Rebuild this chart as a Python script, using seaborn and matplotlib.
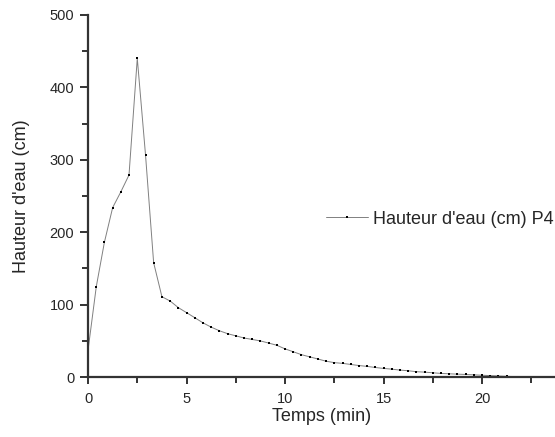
import matplotlib
matplotlib.use("Agg")
import matplotlib.pyplot as plt
import seaborn as sns
import pandas as pd
from matplotlib.ticker import MultipleLocator

# time steps (min), sampled every 25 s
temps = [0.00, 0.42, 0.83, 1.25, 1.67, 2.08, 2.50, 2.92, 3.33, 3.75,
         4.17, 4.58, 5.00, 5.42, 5.83, 6.25, 6.67, 7.08, 7.50, 7.92,
         8.33, 8.75, 9.17, 9.58, 10.00, 10.42, 10.83, 11.25, 11.67, 12.08,
         12.50, 12.92, 13.33, 13.75, 14.17, 14.58, 15.00, 15.42, 15.83, 16.25,
         16.67, 17.08, 17.50, 17.92, 18.33, 18.75, 19.17, 19.58, 20.00, 20.42,
         20.83, 21.25, 21.67, 22.08, 22.50]
# water height (cm) at P4
hauteur = [37, 125, 186, 234, 256, 279, 440, 306, 158, 111,
           105, 96, 89, 82, 75, 69, 64, 60, 57, 54,
           52, 50, 47, 44, 39, 35, 31, 28, 25, 22,
           20, 19, 17.5, 16, 14.8, 13.3, 12, 11, 9.7, 8.8,
           7.5, 6.9, 6, 5.1, 4.6, 4.1, 3.7, 3.2, 2.6, 2.1,
           1.6, 1.1, 0.7, 0.3, 0.1]

df = pd.DataFrame({"Temps (min)": temps, "Hauteur d'eau (cm)": hauteur})

sns.set_style("ticks")
plt.rcParams["font.family"] = ["Liberation Sans", "DejaVu Sans"]

fig = plt.figure(figsize=(5.55, 4.37), dpi=100)
ax = fig.add_axes([0.1586, 0.137, 0.8414, 0.829])

sns.lineplot(data=df, x="Temps (min)", y="Hauteur d'eau (cm)", ax=ax,
             color="#808080", linewidth=0.7, marker="s", markersize=1.8,
             markerfacecolor="black", markeredgewidth=0,
             label="Hauteur d'eau (cm) P4")

ax.set_xlim(0, 23.7)
ax.set_ylim(0, 500)
ax.xaxis.set_major_locator(MultipleLocator(5))
ax.xaxis.set_minor_locator(MultipleLocator(2.5))
ax.yaxis.set_major_locator(MultipleLocator(100))
ax.yaxis.set_minor_locator(MultipleLocator(50))

for side in ["top", "right"]:
    ax.spines[side].set_visible(False)
for side in ["left", "bottom"]:
    ax.spines[side].set_color("#333333")
    ax.spines[side].set_linewidth(1.6)

ax.tick_params(which="both", color="#333333", width=1.4, direction="out")
ax.tick_params(axis="y", which="major", length=6, labelsize=10.5, pad=4)
ax.tick_params(axis="y", which="minor", length=4)
ax.tick_params(axis="x", which="major", length=5, labelsize=10.5, pad=6)
ax.tick_params(axis="x", which="minor", length=4)
ax.set_xlabel("Temps (min)", fontsize=13, labelpad=1)
ax.set_ylabel("Hauteur d'eau (cm)", fontsize=13, labelpad=14)

ax.legend(loc="center left", bbox_to_anchor=(326 / 555, 1 - 219 / 437),
          bbox_transform=fig.transFigure, frameon=False, fontsize=13,
          borderpad=0, borderaxespad=0, handlelength=2.3, handletextpad=0.3)

fig.savefig("out.png", dpi=100)
